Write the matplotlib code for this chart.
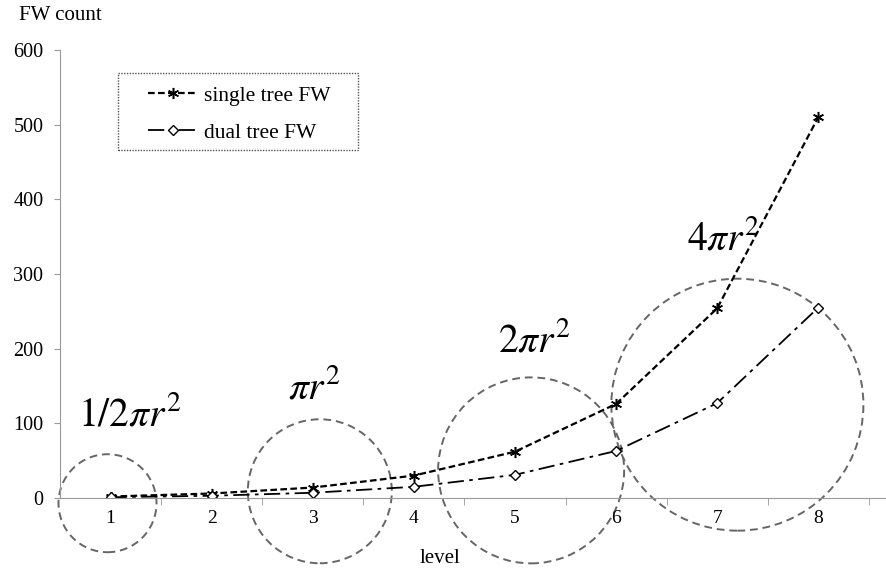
import matplotlib.pyplot as plt
from matplotlib.patches import Ellipse, Rectangle

# data
levels = [1, 2, 3, 4, 5, 6, 7, 8]
single_tree = [2, 6, 14, 30, 62, 126, 254, 510]
dual_tree = [1, 3, 7, 15, 31, 63, 127, 255]

# annotation circles: level, center value, radius in pixels, label
circle_levels = [0.97, 3.07, 5.16, 7.2]
circle_values = [-7, 9, 37, 125]
circle_radii = [49, 72, 93, 126]
circle_labels = [r'$1/2\pi r^2$', r'$\pi r^2$', r'$2\pi r^2$', r'$4\pi r^2$']
label_pos = [(1.19, 111), (3.02, 147), (5.19, 209), (7.06, 346)]

plt.rcParams['font.family'] = ['Liberation Serif', 'DejaVu Serif']
plt.rcParams['mathtext.fontset'] = 'stix'

fig = plt.figure(figsize=(8.86, 5.73), dpi=100)
ax = fig.add_axes([0.0677, 0.1309, 0.9323, 0.7818])

ax.plot(levels, single_tree, color='black', linestyle=(0, (3, 1.5)), linewidth=1.6,
        marker=(6, 2, 0), markersize=8, markeredgewidth=1.1, label='single tree FW')
ax.plot(levels, dual_tree, color='black', linestyle=(0, (9, 3, 2, 3)), linewidth=1.3,
        marker='D', markersize=5.5, markerfacecolor='white', markeredgewidth=1.0,
        label='dual tree FW')

ax.set_xlim(0.5, 8.67)
ax.set_ylim(0, 600)
ax.set_yticks(range(0, 700, 100))
ax.set_xticks(levels)
ax.set_xticks([1.5, 2.5, 3.5, 4.5, 5.5, 6.5, 7.5, 8.5], minor=True)
ax.tick_params(axis='x', which='major', length=0, labelsize=14, pad=9)
ax.tick_params(axis='x', which='minor', length=5, color='#999999', direction='out')
ax.tick_params(axis='y', length=4, color='#999999', labelsize=14.5, pad=8)

for side in ['top', 'right']:
    ax.spines[side].set_visible(False)
ax.spines['left'].set_color('#999999')
ax.spines['bottom'].set_color('#999999')

# pixels per data unit, used to keep the circles round
px_x = 101.1
px_y = 448 / 600

for lv, cv, r in zip(circle_levels, circle_values, circle_radii):
    e = Ellipse((lv, cv), width=2 * r / px_x, height=2 * r / px_y, fill=False,
                edgecolor='#666666', linestyle=(0, (4, 2.5)), linewidth=1.4, clip_on=False)
    ax.add_patch(e)

for txt, (x, y) in zip(circle_labels, label_pos):
    ax.text(x, y, txt, fontsize=28.5, ha='center', va='center')

# legend without frame, dotted box drawn separately
leg = ax.legend(loc='upper left', bbox_to_anchor=(0.1065, 0.92), borderaxespad=0,
                borderpad=0, fontsize=15.5, handlelength=2.3, handletextpad=0.3,
                labelspacing=0.78, frameon=False)
box = Rectangle((0.0702, 0.7768), 0.2906, 0.1719, transform=ax.transAxes, fill=False,
                edgecolor='#555555', linestyle=(0, (1, 1)), linewidth=1.0)
ax.add_patch(box)

fig.text(0.022, 0.99, 'FW count', fontsize=15, va='top', ha='left')
fig.text(0.497, 0.008, 'level', fontsize=15, va='bottom', ha='center')

fig.savefig('out.png', dpi=100)
